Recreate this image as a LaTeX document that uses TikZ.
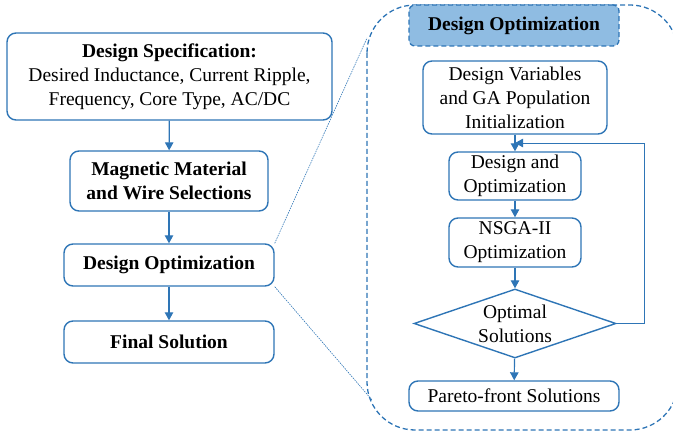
\documentclass[tikz,border=0pt]{standalone}
\usepackage{fontspec}
\setmainfont{Liberation Serif}
\usetikzlibrary{shapes.geometric,arrows.meta}
\definecolor{lineblue}{HTML}{2E75B6}
\definecolor{fillblue}{HTML}{8FBCE2}
\newcommand{\txtsize}{\fontsize{19.5}{24}\selectfont}
\tikzset{
  box/.style={draw=lineblue, line width=1.4pt, rounded corners=9pt, align=center,
    inner sep=0pt, font=\txtsize},
  boldbox/.style={box, font=\bfseries\txtsize},
  flow/.style={draw=lineblue, line width=1.2pt, -{Triangle[length=8pt,width=8.5pt]}},
  zoomline/.style={draw=lineblue, line width=0.6pt, dash pattern=on 1.5pt off 1pt},
  frame/.style={draw=lineblue, line width=1.3pt, dash pattern=on 5pt off 3pt},
}
\begin{document}
\begin{tikzpicture}[x=1pt,y=-1pt]
\useasboundingbox (0,0) rectangle (673,433);
% left column
\node[box, minimum width=325pt, minimum height=87pt] (spec) at (169.5,76.5)
  {\textbf{Design Specification:}\\Desired Inductance, Current Ripple,\\Frequency, Core Type, AC/DC};
\node[boldbox, minimum width=198pt, minimum height=60pt] (mat) at (169,181)
  {Magnetic Material\\and Wire Selections};
\node[boldbox, minimum width=210pt, minimum height=42pt] (dopt) at (169,265)
  {Design Optimization};
\node[boldbox, minimum width=210pt, minimum height=42pt] (final) at (169,342)
  {Final Solution};
\draw[flow] (spec) -- (mat);
\draw[flow] (mat) -- (dopt);
\draw[flow] (dopt) -- (final);
% enlarged view frame
\begin{scope}
\clip (0,0) rectangle (673,433);
\draw[frame, rounded corners=48pt] (367,5) rectangle (678,430);
\end{scope}
\coordinate (ft) at (367,38);
\coordinate (fb) at (372,400);
\draw[zoomline] (dopt.north east) -- (ft);
\draw[zoomline] (dopt.south east) -- (fb);
% right column
\node[boldbox, frame, fill=fillblue, rounded corners=6pt, minimum width=210pt, minimum height=41pt]
  (title) at (514,25.5) {Design Optimization};
\node[box, minimum width=184pt, minimum height=73pt] (dv) at (515,97.5)
  {Design Variables\\and GA Population\\Initialization};
\node[box, minimum width=132pt, minimum height=48pt] (dao) at (515,176)
  {Design and\\Optimization};
\node[box, minimum width=132pt, minimum height=49pt] (nsga) at (515,242.5)
  {NSGA-II\\Optimization};
\node[diamond, draw=lineblue, line width=1.4pt, inner sep=0pt,
  minimum width=202pt, minimum height=69pt,
  label={[align=center, font=\txtsize, inner sep=0pt]center:Optimal\\Solutions}] (opt) at (515,323.5) {};
\node[box, minimum width=210pt, minimum height=30pt] (par) at (514,396)
  {Pareto-front Solutions};
\draw[flow] (dv) -- (dao);
\draw[flow] (dao) -- (nsga);
\draw[flow] (nsga) -- (opt);
\draw[flow] (opt) -- (par);
\coordinate (jn) at (515,143);
\draw[flow, line width=0.9pt] (opt.east) -| (644,143) -- (jn);
\end{tikzpicture}
\end{document}
